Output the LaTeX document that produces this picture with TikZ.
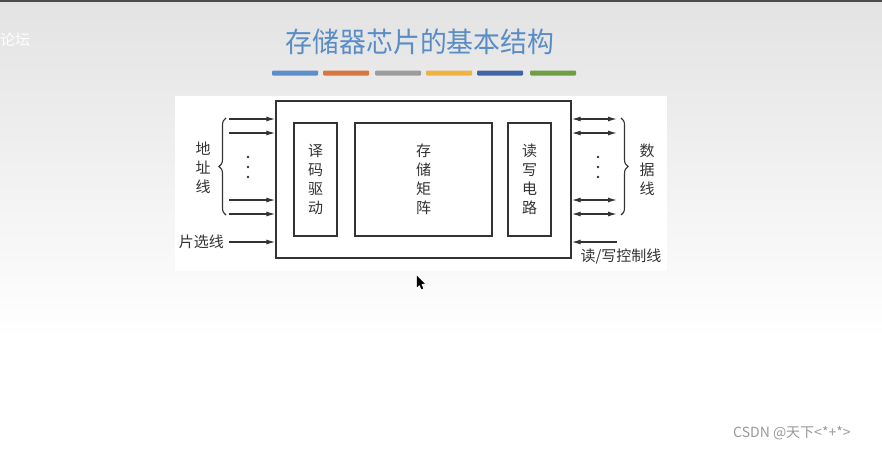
\documentclass[tikz,border=0pt]{standalone}
\usepackage{fontspec}
\newfontfamily\cjk{Noto Sans CJK SC}
\usetikzlibrary{arrows.meta,decorations.pathreplacing}
\definecolor{ttl}{HTML}{5A8DC6}
\definecolor{ink}{HTML}{333333}
\definecolor{b1}{HTML}{5B8FC9}
\definecolor{b2}{HTML}{D9753F}
\definecolor{b3}{HTML}{9C9C9C}
\definecolor{b4}{HTML}{EDB443}
\definecolor{b5}{HTML}{3F64A8}
\definecolor{b6}{HTML}{6F9E44}
\tikzset{
  box/.style={draw=ink,line width=1.4pt,inner sep=0pt},
  lbl/.style={font=\cjk\fontsize{15}{19}\selectfont,text=ink,align=center,inner sep=0pt},
  arr/.style={draw=ink,line width=1.2pt,-{Latex[length=9pt,width=5pt]}},
  darr/.style={draw=ink,line width=1.2pt,{Latex[length=9pt,width=5pt]}-{Latex[length=9pt,width=5pt]}},
  brc/.style={draw=ink,line width=1.1pt,decorate,decoration={brace,amplitude=7pt,aspect=0.5}},
  bar/.style={inner sep=0pt,minimum width=46pt,minimum height=5pt,rounded corners=1pt},
  dot/.style={circle,fill=ink,inner sep=0pt,minimum size=2.8pt}
}
\begin{document}
\begin{tikzpicture}[x=1pt,y=-1pt]
\useasboundingbox (0,0) rectangle (882,448);
% background
\fill[white] (0,0) rectangle (882,448);
\shade[top color=black!11,bottom color=white] (0,0) rectangle (882,340);
\fill[black!70] (0,0) rectangle (882,2);
\node[font=\cjk\fontsize{15}{15}\selectfont,text=white,anchor=west,inner sep=0pt] (wm) at (0,40) {论坛};
% title
\node[font=\cjk\fontsize{28}{28}\selectfont,text=ttl,inner sep=0pt,xscale=0.96] (title) at (420,42) {存储器芯片的基本结构};
\node[bar,fill=b1] (c1) at (295,73) {};
\node[bar,fill=b2] (c2) at (346,73) {};
\node[bar,fill=b3] (c3) at (398,73) {};
\node[bar,fill=b4] (c4) at (449,73) {};
\node[bar,fill=b5] (c5) at (500,73) {};
\node[bar,fill=b6] (c6) at (553,73) {};
% figure panel
\fill[white] (175,96) rectangle (667,271);
% boxes
\node[box,minimum width=295pt,minimum height=157pt] (chip) at (423.5,179.5) {};
\node[box,minimum width=43pt,minimum height=113pt] (dec) at (315.5,179.5) {};
\node[box,minimum width=137pt,minimum height=113pt] (mem) at (423.5,179.5) {};
\node[box,minimum width=43pt,minimum height=113pt] (rw) at (529.5,179.5) {};
\node[lbl] (tdec) at (dec.center) {译\\码\\驱\\动};
\node[lbl] (tmem) at (mem.center) {存\\储\\矩\\阵};
\node[lbl] (trw) at (rw.center) {读\\写\\电\\路};
% address lines
\coordinate (a1) at (229,119);
\coordinate (a2) at (229,133);
\coordinate (a3) at (229,200);
\coordinate (a4) at (229,214);
\foreach \c in {a1,a2,a3,a4} \draw[arr] (\c) -- (\c -| chip.west);
\node[dot] (ld1) at (248,157) {};
\node[dot] (ld2) at (248,167) {};
\node[dot] (ld3) at (248,177) {};
\draw[brc] (226,215) -- (226,118);
\node[lbl] (taddr) at (203,167.5) {地\\址\\线};
% chip select
\coordinate (cs) at (229,242);
\draw[arr] (cs) -- (cs -| chip.west);
\node[lbl,anchor=east] (tcs) at (224,242) {片选线};
% data lines
\coordinate (d1) at (617,119);
\coordinate (d2) at (617,133);
\coordinate (d3) at (617,200);
\coordinate (d4) at (617,214);
\foreach \c in {d1,d2,d3,d4} \draw[darr] (\c -| chip.east) -- (\c);
\node[dot] (rd1) at (598,157) {};
\node[dot] (rd2) at (598,167) {};
\node[dot] (rd3) at (598,177) {};
\draw[brc] (621,118) -- (621,215);
\node[lbl] (tdata) at (647,170) {数\\据\\线};
% read/write control
\coordinate (rwc) at (617,242);
\draw[arr] (rwc) -- (rwc -| chip.east);
\node[lbl] (trwc) at (621,257) {读/写控制线};
% cursor
\filldraw[black,line width=0.3pt] (417,276) -- (417,287) -- (419.5,284.5) -- (421.5,289) -- (423,288.3) -- (421,284) -- (424.5,283.5) -- cycle;
% watermark
\node[font=\cjk\fontsize{14}{14}\selectfont,text=black!40,anchor=west,inner sep=0pt] (csdn) at (733,433) {CSDN @天下<*+*>};
\end{tikzpicture}
\end{document}
